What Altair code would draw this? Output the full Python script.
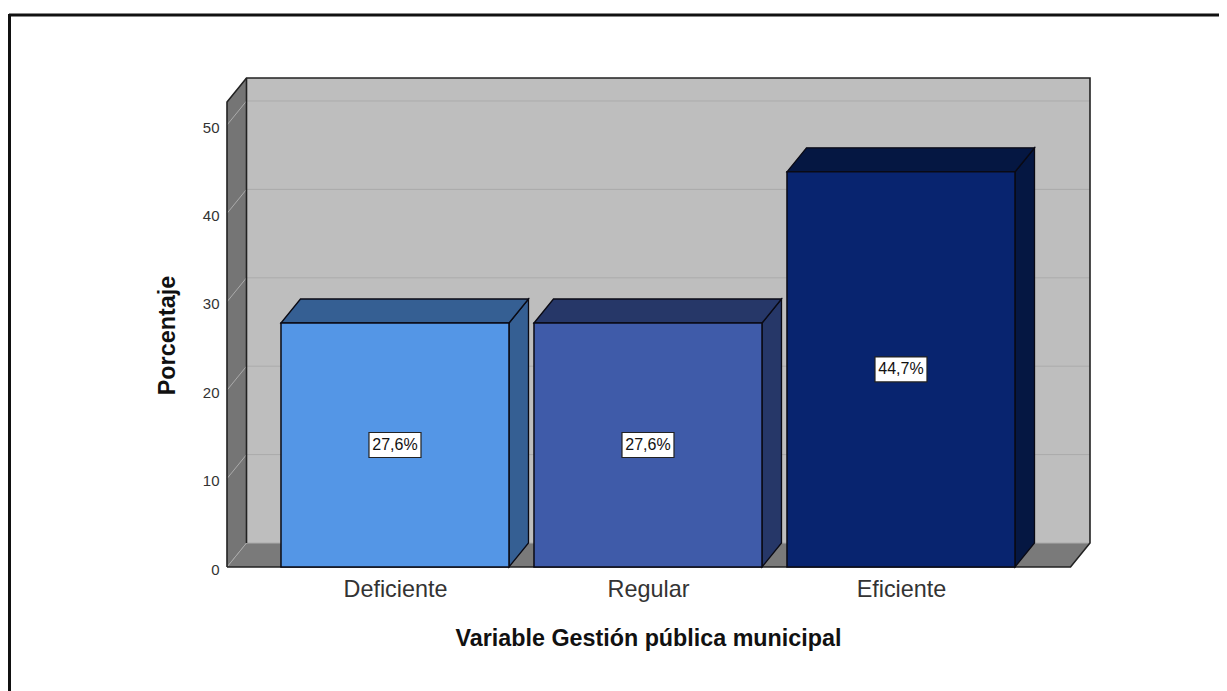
import altair as alt
import pandas as pd

categories = ["Deficiente", "Regular", "Eficiente"]
values = [27.6, 27.6, 44.7]
labels = ["27,6%", "27,6%", "44,7%"]
front_colors = ["#5496E6", "#3F5BA9", "#08246F"]
side_colors = ["#355F93", "#263768", "#051742"]
y_ticks = [0, 10, 20, 30, 40, 50]

W, H = 863, 489
PX_X = 253.0          # pixels per category step
PX_Y = 8.84           # pixels per percent
X_MIN = -0.664
X_MAX = X_MIN + W / PX_X
Y_MAX = H / PX_Y
DX = 19.5 / PX_X      # depth of the 3D box, x units
DY = 24 / PX_Y        # depth of the 3D box, y units
HALF = 114 / PX_X     # half a bar
X_FRONT_R = X_MAX - DX
Y_FRONT_T = Y_MAX - DY
BOX_W, BOX_H = 26 / PX_X, 12.5 / PX_Y

xs = alt.Scale(domain=[X_MIN, X_MAX], nice=False, zero=False)
ys = alt.Scale(domain=[0, Y_MAX], nice=False, zero=False)
x_axis = alt.Axis(
    values=[0, 1, 2],
    labelExpr="['" + "','".join(categories) + "'][datum.value]",
    domain=False, ticks=False, grid=False,
    labelFont="Liberation Sans", labelFontSize=23.4, labelColor="#333333",
    labelPadding=11, labelAngle=0,
    title="Variable Gestión pública municipal",
    titleFont="Liberation Sans", titleFontSize=23.3, titleFontWeight="bold",
    titleColor="#111111", titleX=421, titleY=71, titleBaseline="middle",
)
y_axis = alt.Axis(
    values=y_ticks, domain=False, ticks=False, grid=False,
    labelFont="Liberation Sans", labelFontSize=15, labelColor="#333333",
    labelPadding=8, labelOffset=2,
    title="Porcentaje",
    titleFont="Liberation Sans", titleFontSize=23.4, titleFontWeight="bold",
    titleColor="#111111", titleX=-60, titleY=257, titleBaseline="middle",
)
X = alt.X("x:Q", scale=xs, axis=x_axis)
Y = alt.Y("y:Q", scale=ys, axis=y_axis)

# walls and floor
wall_back = pd.DataFrame([{"x": X_MIN + DX, "x2": X_MAX, "y": DY, "y2": Y_MAX}])
wall_left = pd.DataFrame([
    {"x": X_MIN, "y": 0, "y2": Y_FRONT_T},
    {"x": X_MIN + DX, "y": DY, "y2": Y_MAX},
])
floor = pd.DataFrame([
    {"x": X_MIN, "y": 0, "y2": 0},
    {"x": X_MIN + DX, "y": DY, "y2": 0},
    {"x": X_FRONT_R, "y": DY, "y2": 0},
    {"x": X_MAX, "y": DY, "y2": DY},
])

back = alt.Chart(wall_back).mark_rect(fill="#BEBEBE").encode(x=X, x2="x2:Q", y=Y, y2="y2:Q")
left = alt.Chart(wall_left).mark_area(fill="#757575").encode(x=X, y=Y, y2="y2:Q")
flo = alt.Chart(floor).mark_area(fill="#7A7A7A").encode(x=X, y=Y, y2="y2:Q")

# gridlines on both walls
grid_rows = []
for t in y_ticks:
    grid_rows += [
        {"x": X_MIN, "y": t, "t": t},
        {"x": X_MIN + DX, "y": t + DY, "t": t},
        {"x": X_MAX, "y": t + DY, "t": t},
    ]
grid = alt.Chart(pd.DataFrame(grid_rows)).mark_line(color="#ABABAB", strokeWidth=1).encode(
    x=X, y=Y, detail="t:N"
)

# outline of the box
edge_rows = []
for k, path in enumerate([
    [(X_MIN, 0), (X_MIN, Y_FRONT_T), (X_MIN + DX, Y_MAX), (X_MAX, Y_MAX), (X_MAX, DY), (X_FRONT_R, 0), (X_MIN, 0)],
    [(X_MIN + DX, DY), (X_MIN + DX, Y_MAX)],
]):
    for o, (a, b) in enumerate(path):
        edge_rows.append({"x": a, "y": b, "k": k, "o": o})
edges = alt.Chart(pd.DataFrame(edge_rows)).mark_line(color="#222222", strokeWidth=1.6).encode(
    x=X, y=Y, detail="k:N", order="o:Q"
)

# bars
front_rows, face_rows, box_rows = [], [], []
for i, (v, lab, fc, sc) in enumerate(zip(values, labels, front_colors, side_colors)):
    l, r = i - HALF, i + HALF
    front_rows.append({"x": l, "x2": r, "y": 0, "y2": v, "c": fc})
    face_rows += [
        {"x": r, "y": v, "y2": 0, "c": sc, "f": f"s{i}"},
        {"x": r + DX, "y": v + DY, "y2": DY, "c": sc, "f": f"s{i}"},
        {"x": l, "y": v, "y2": v, "c": sc, "f": f"t{i}"},
        {"x": l + DX, "y": v + DY, "y2": v, "c": sc, "f": f"t{i}"},
        {"x": r, "y": v + DY, "y2": v, "c": sc, "f": f"t{i}"},
        {"x": r + DX, "y": v + DY, "y2": v + DY, "c": sc, "f": f"t{i}"},
    ]
    box_rows.append({
        "x": i - BOX_W, "x2": i + BOX_W, "y": v / 2 - BOX_H, "y2": v / 2 + BOX_H,
        "xc": i, "yc": v / 2, "t": lab,
    })

faces = alt.Chart(pd.DataFrame(face_rows)).mark_area(stroke="#0A0A14", strokeWidth=1.3).encode(
    x=X, y=Y, y2="y2:Q", detail="f:N", fill=alt.Fill("c:N", scale=None)
)
fronts = alt.Chart(pd.DataFrame(front_rows)).mark_rect(stroke="#0A0A14", strokeWidth=1.5).encode(
    x=X, x2="x2:Q", y=Y, y2="y2:Q", fill=alt.Fill("c:N", scale=None)
)
box_df = pd.DataFrame(box_rows)
boxes = alt.Chart(box_df).mark_rect(fill="white", stroke="#222222", strokeWidth=1.2).encode(
    x=X, x2="x2:Q", y=Y, y2="y2:Q"
)
texts = alt.Chart(box_df).mark_text(
    font="Liberation Sans", fontSize=16, color="#111111", baseline="middle", align="center"
).encode(x=alt.X("xc:Q", scale=xs, axis=x_axis), y=alt.Y("yc:Q", scale=ys, axis=y_axis), text="t:N")

# outer frame of the picture, open on the right and at the bottom
one = pd.DataFrame([{"a": 1}])
frame_top = alt.Chart(one).mark_rule(color="#111111", strokeWidth=3).encode(
    x=alt.value(-218), x2=alt.value(1010), y=alt.value(-63)
)
frame_left = alt.Chart(one).mark_rule(color="#111111", strokeWidth=3).encode(
    x=alt.value(-217.5), y=alt.value(-64), y2=alt.value(630)
)

chart = alt.layer(
    back, left, flo, grid, edges, faces, fronts, boxes, texts, frame_top, frame_left
).properties(
    width=W, height=H,
    padding={"left": 219, "top": 70, "right": 129, "bottom": 124},
    autosize=alt.AutoSizeParams(type="none"),
    background="white",
).configure_view(stroke=None)

chart.save("out.html", embed_options={"renderer": "svg", "actions": False})
